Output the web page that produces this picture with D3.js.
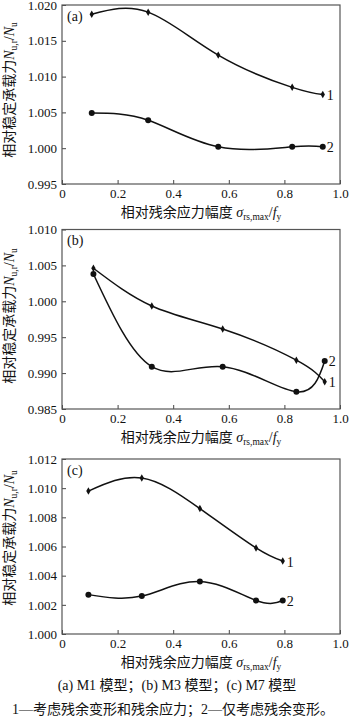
<!DOCTYPE html>
<html>
<head>
<meta charset="utf-8">
<script src="https://cdn.jsdelivr.net/npm/d3@7/dist/d3.min.js"></script>
<style>
  html, body { margin: 0; padding: 0; background: #fff; }
  svg { display: block; }
  text { font-family: "Liberation Serif", "Noto Sans CJK SC", serif; fill: #111; }
</style>
</head>
<body>
<svg id="chart" width="350" height="722"></svg>
<script>
// Shared x axis: relative residual-stress amplitude
const xTicks = [0, 0.2, 0.4, 0.6, 0.8, 1.0];

// (a) M1 model
const aX = [0.107, 0.31, 0.562, 0.828, 0.938];
const aSeries1 = [1.0187, 1.0190, 1.0130, 1.0085, 1.0075];
const aSeries2 = [1.0049, 1.0039, 1.0002, 1.0002, 1.0002];
const aYTicks = [0.995, 1.000, 1.005, 1.010, 1.015, 1.020];

// (b) M3 model
const bX = [0.113, 0.323, 0.578, 0.843, 0.945];
const bSeries1 = [1.0046, 0.99935, 0.99614, 0.9918, 0.9888];
const bSeries2 = [1.0038, 0.9909, 0.9909, 0.9874, 0.9917];
const bYTicks = [0.985, 0.990, 0.995, 1.000, 1.005, 1.010];

// (c) M7 model
const cX = [0.095, 0.287, 0.496, 0.698, 0.794];
const cSeries1 = [1.0098, 1.0107, 1.0086, 1.0059, 1.0050];
const cSeries2 = [1.0027, 1.0026, 1.0036, 1.0023, 1.0023];
const cYTicks = [1.000, 1.002, 1.004, 1.006, 1.008, 1.010, 1.012];

const panelTags = ["(a)", "(b)", "(c)"];
const seriesNames = ["1", "2"];
const captions = [
  "(a) M1 模型；(b) M3 模型；(c) M7 模型",
  "1—考虑残余变形和残余应力；2—仅考虑残余变形。"
];

const panels = [
  { tag: panelTags[0], xs: aX, s1: aSeries1, s2: aSeries2, ticks: aYTicks, top: 5, bottom: 184, titleMid: 90 },
  { tag: panelTags[1], xs: bX, s1: bSeries1, s2: bSeries2, ticks: bYTicks, top: 229.5, bottom: 409, titleMid: 316 },
  { tag: panelTags[2], xs: cX, s1: cSeries1, s2: cSeries2, ticks: cYTicks, top: 459, bottom: 634, titleMid: 538 }
];

const FONT = "'Liberation Serif', 'Noto Sans CJK SC', serif";
const left = 62, right = 340;
const svg = d3.select("#chart");

const x = d3.scaleLinear().domain([0, 1]).range([left, right]);

panels.forEach(p => {
  const y = d3.scaleLinear()
    .domain([p.ticks[0], p.ticks[p.ticks.length - 1]])
    .range([p.bottom, p.top]);
  const g = svg.append("g").attr("font-family", FONT);

  // bottom axis, ticks pointing inward
  const xa = g.append("g")
    .attr("transform", `translate(0,${p.bottom})`)
    .call(d3.axisBottom(x).tickValues(xTicks).tickSize(-4).tickPadding(4.5)
      .tickFormat(d => d === 0 ? "0" : d3.format(".1f")(d)));
  // left axis, ticks pointing inward
  const ya = g.append("g")
    .attr("transform", `translate(${left},0)`)
    .call(d3.axisLeft(y).tickValues(p.ticks).tickSize(-4).tickPadding(5)
      .tickFormat(d3.format(".3f")));
  [xa, ya].forEach(a => {
    a.attr("font-family", FONT).attr("font-size", 13);
    a.select(".domain").remove();
    a.selectAll(".tick line").attr("stroke", "#444").attr("stroke-width", 1);
    a.selectAll(".tick text")
      .attr("font-family", FONT)
      .style("font-family", FONT)
      .style("font-size", "13px").attr("fill", "#111");
  });

  // frame
  g.append("rect")
    .attr("x", left).attr("y", p.top)
    .attr("width", right - left).attr("height", p.bottom - p.top)
    .attr("fill", "none").attr("stroke", "#555").attr("stroke-width", 1.2);

  // panel tag
  g.append("text").attr("x", left + 5).attr("y", p.top + 15.5)
    .style("font-size", "14px").text(p.tag);

  const line = d3.line()
    .x((d, i) => x(p.xs[i]))
    .y(d => y(d))
    .curve(d3.curveNatural);

  [p.s1, p.s2].forEach((vals, k) => {
    g.append("path").datum(vals)
      .attr("d", line)
      .attr("fill", "none").attr("stroke", "#111").attr("stroke-width", 1.5);
    if (k === 0) {
      g.selectAll(null).data(vals).enter().append("path")
        .attr("transform", (d, i) => `translate(${x(p.xs[i])},${y(d)})`)
        .attr("d", d3.symbol().type(d3.symbolDiamond).size(16))
        .attr("fill", "#111");
    } else {
      g.selectAll(null).data(vals).enter().append("circle")
        .attr("cx", (d, i) => x(p.xs[i])).attr("cy", d => y(d))
        .attr("r", 3).attr("fill", "#111");
    }
    const lastI = vals.length - 1;
    g.append("text")
      .attr("x", x(p.xs[lastI]) + 4)
      .attr("y", y(vals[lastI]) + 5.5)
      .style("font-size", "14px")
      .text(seriesNames[k]);
  });

  // y title
  const yt = g.append("text")
    .attr("transform", `translate(13.5,${p.titleMid}) rotate(-90)`)
    .attr("text-anchor", "middle")
    .style("font-size", "14px");
  yt.append("tspan").text("相对稳定承载力");
  yt.append("tspan").style("font-style", "italic").text("N");
  yt.append("tspan").attr("dy", 3).style("font-size", "9.5px").text("u,r");
  yt.append("tspan").attr("dy", -3).text("/");
  yt.append("tspan").style("font-style", "italic").text("N");
  yt.append("tspan").attr("dy", 3).style("font-size", "9.5px").text("u");

  // x title
  const xt = g.append("text")
    .attr("x", (left + right) / 2).attr("y", p.bottom + 33)
    .attr("text-anchor", "middle")
    .style("font-size", "14px");
  xt.append("tspan").text("相对残余应力幅度 ");
  xt.append("tspan").style("font-style", "italic").text("σ");
  xt.append("tspan").attr("dy", 3).style("font-size", "9.5px").text("rs,max");
  xt.append("tspan").attr("dy", -3).text("/");
  xt.append("tspan").style("font-style", "italic").text("f");
  xt.append("tspan").attr("dy", 3).style("font-size", "9.5px").text("y");
});

// captions
svg.append("text").attr("x", 177).attr("y", 690)
  .attr("text-anchor", "middle").style("font-size", "14px").text(captions[0]);
svg.append("text").attr("x", 173).attr("y", 714)
  .attr("text-anchor", "middle").style("font-size", "14px").text(captions[1]);
</script>
</body>
</html>
